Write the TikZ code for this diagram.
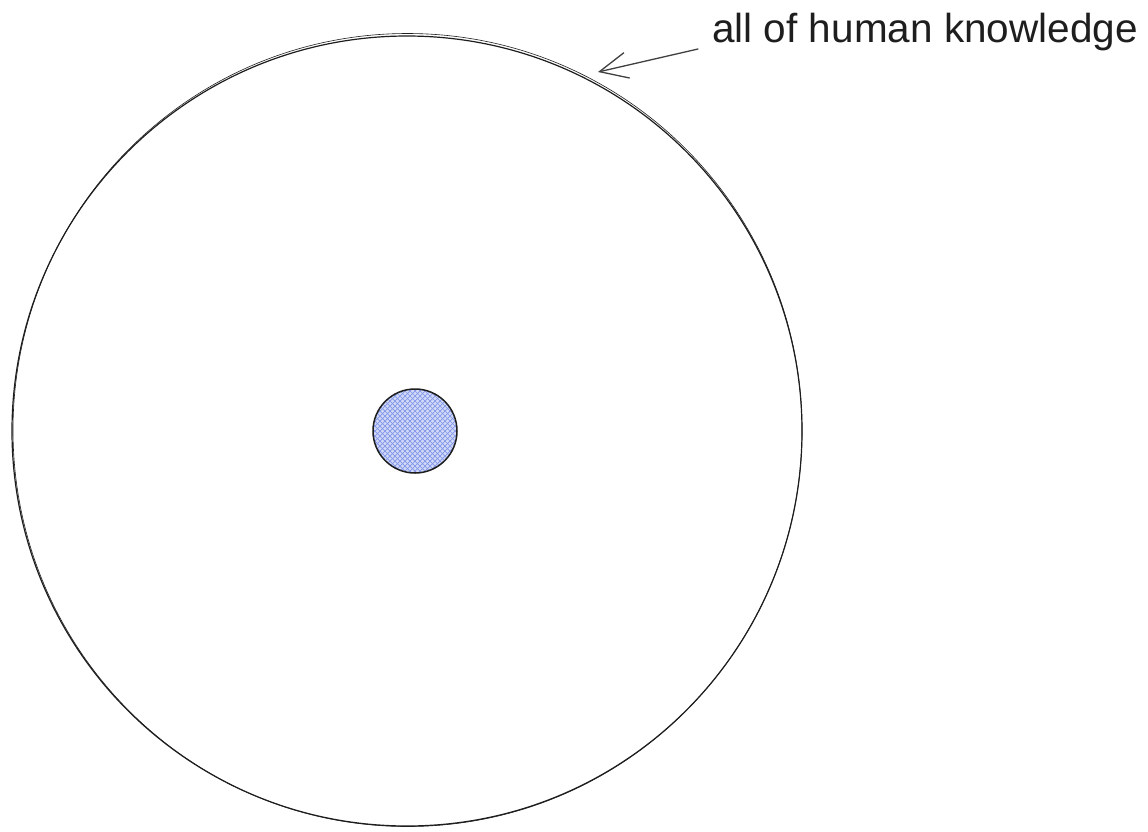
\documentclass[tikz,border=0pt]{standalone}
\usepackage{fontspec}
\setmainfont{Liberation Sans}
\usetikzlibrary{arrows.meta}
\definecolor{ink}{RGB}{30,30,30}
\definecolor{hatchfill}{RGB}{210,218,248}
\definecolor{hatchline}{RGB}{130,150,232}
\tikzset{
  outline/.style={draw=ink, line width=1.2pt},
  sketch/.style={draw=ink, line width=0.6pt},
  pointer/.style={draw=ink!85, line width=1.3pt, line cap=round,
    -{Straight Barb[length=28pt,width=26pt,line width=1.3pt]}},
  labeltext/.style={font=\fontsize{40.5}{44}\selectfont, text=ink, inner xsep=14pt, inner ysep=0pt}
}
\begin{document}
\begin{tikzpicture}[x=1pt,y=-1pt]
\useasboundingbox[fill=white] (0,0) rectangle (1148,831);
% big circle (sketchy double stroke)
\node[circle, minimum size=790pt, inner sep=0pt, outline] (world) at (407,431) {};
\draw[sketch] (407.5,430) ellipse [x radius=394.5, y radius=396.5];
% small hatched circle
\begin{scope}
  \clip (415,431) circle [radius=42];
  \fill[hatchfill] (415,431) circle [radius=42];
  \foreach \d in {-95,-90,...,95} {
    \draw[hatchline, line width=0.7pt] (415+\d-50,431-50) -- (415+\d+50,431+50);
    \draw[hatchline, line width=0.7pt] (415+\d-50,431+50) -- (415+\d+50,431-50);
  }
\end{scope}
\node[circle, minimum size=84pt, inner sep=0pt, draw=ink, line width=1.5pt] (me) at (415,431) {};
% label and arrow
\node[labeltext, anchor=base west] (label) at (698,42) {all of human knowledge};
\coordinate (tip) at (598,72);
\draw[pointer] ([yshift=-7pt]label.base west) -- (tip);
\end{tikzpicture}
\end{document}
